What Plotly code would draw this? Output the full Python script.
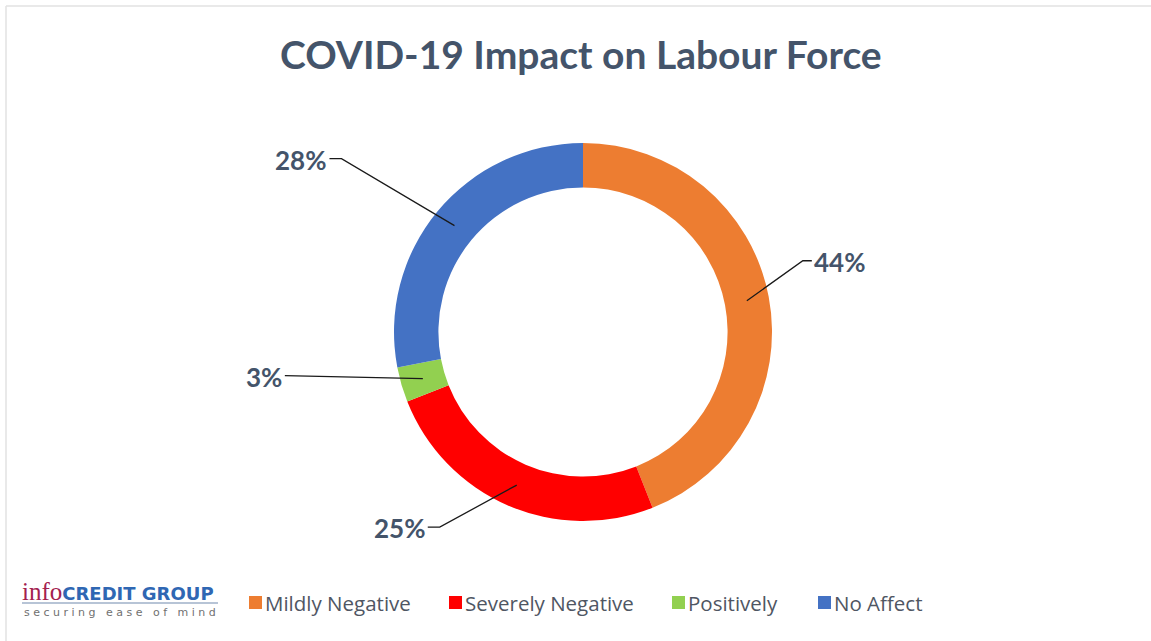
import math
import plotly.graph_objects as go

# ---------------- data ----------------
categories = ["Mildly Negative", "Severely Negative", "Positively", "No Affect"]
values = [44, 25, 3, 28]
colors = ["#ED7D31", "#FF0000", "#92D050", "#4472C4"]
title_text = "COVID-19 Impact on Labour Force"

# ---------------- layout constants (pixels) ----------------
W, H = 1151, 641
CX, CY = 583, 332          # donut centre
R_OUT = 189                # outer radius
HOLE = 0.765
R_MID = R_OUT * (1 + HOLE) / 2
TEXT_COLOR = "#44546A"
# leader elbow offset from slice mid-point (px), elbow length, side of label
leader = {
    "Mildly Negative": (56, -40, 9, "right"),
    "Severely Negative": (-77, 42, 12, "left"),
    "Positively": (-138, -3, 0, "left"),
    "No Affect": (-113, -67, 12, "left"),
}


def px(x):
    return x / W


def py(y):
    return 1 - y / H


fig = go.Figure()
fig.add_trace(go.Pie(
    labels=categories, values=values,
    marker=dict(colors=colors, line=dict(width=0)),
    hole=HOLE, sort=False, direction="clockwise", rotation=0,
    textinfo="none", hoverinfo="label+percent", showlegend=False,
    domain=dict(x=[px(CX - R_OUT), px(CX + R_OUT)],
                y=[py(CY + R_OUT), py(CY - R_OUT)]),
))

shapes = []
annotations = []
total = sum(values)
cum = 0
for cat, v in zip(categories, values):
    mid = (cum + v / 2) / total * 2 * math.pi
    cum += v
    ax = CX + R_MID * math.sin(mid)
    ay = CY - R_MID * math.cos(mid)
    dx, dy, elbow, side = leader[cat]
    ex, ey = ax + dx, ay + dy
    tx = ex + (elbow if side == "right" else -elbow)
    shapes.append(dict(
        type="path", xref="paper", yref="paper",
        path=f"M {px(ax)},{py(ay)} L {px(ex)},{py(ey)} L {px(tx)},{py(ey)}",
        line=dict(color="#1a1a1a", width=1.3)))
    annotations.append(dict(
        x=px(tx + (0 if side == "right" else -1)), y=py(ey + 1),
        xref="paper", yref="paper",
        xanchor="left" if side == "right" else "right", yanchor="middle",
        text=f"<b>{round(v / total * 100)}%</b>", showarrow=False,
        font=dict(family="Lato, sans-serif", size=26, color=TEXT_COLOR)))

# title
annotations.append(dict(
    x=px(581), y=py(54), xref="paper", yref="paper",
    xanchor="center", yanchor="middle", showarrow=False,
    text=f"<b>{title_text}</b>",
    font=dict(family="Lato, sans-serif", size=39, color=TEXT_COLOR)))

# custom legend
legend_x = [249, 449, 672, 818]
LEG_Y = 603
for cat, col, lx in zip(categories, colors, legend_x):
    shapes.append(dict(type="rect", xref="paper", yref="paper",
                       x0=px(lx), x1=px(lx + 13), y0=py(LEG_Y + 6), y1=py(LEG_Y - 7),
                       fillcolor=col, line=dict(width=0)))
    annotations.append(dict(
        x=px(lx + 14), y=py(LEG_Y), xref="paper", yref="paper",
        xanchor="left", yanchor="middle", showarrow=False, text=cat,
        font=dict(family="Open Sans, sans-serif", size=20.5, color="#4f5663")))

# logo
annotations.append(dict(
    x=px(20), y=py(591), xref="paper", yref="paper",
    xanchor="left", yanchor="middle", showarrow=False,
    text="<span style='font-family:Liberation Serif, serif;color:#A3214F;font-size:25px'>info</span>"
         "<span style='font-family:DejaVu Sans, sans-serif;color:#2F67B3;font-size:18px'><b>CREDIT GROUP</b></span>",
    font=dict(size=17)))
shapes.append(dict(type="line", xref="paper", yref="paper",
                   x0=px(22), x1=px(218), y0=py(603), y1=py(603),
                   line=dict(color="#9fb0c8", width=1.5)))
annotations.append(dict(
    x=px(120), y=py(612), xref="paper", yref="paper",
    xanchor="center", yanchor="middle", showarrow=False,
    text="s e c u r i n g &nbsp; e a s e &nbsp; o f &nbsp; m i n d",
    font=dict(family="DejaVu Sans, sans-serif", size=11, color="#707070")))

# faint frame
shapes.append(dict(type="line", xref="paper", yref="paper",
                   x0=px(6), x1=1, y0=py(6), y1=py(6),
                   line=dict(color="#e2e2e2", width=1.5)))
shapes.append(dict(type="line", xref="paper", yref="paper",
                   x0=px(6), x1=px(6), y0=0, y1=py(6),
                   line=dict(color="#e2e2e2", width=1.5)))

fig.update_layout(
    width=W, height=H, margin=dict(l=0, r=0, t=0, b=0),
    paper_bgcolor="white", plot_bgcolor="white",
    shapes=shapes, annotations=annotations, showlegend=False,
)
fig.write_html("out.html", config={"displayModeBar": False},
               post_script="document.body.style.margin='0';document.body.style.overflow='hidden';")
